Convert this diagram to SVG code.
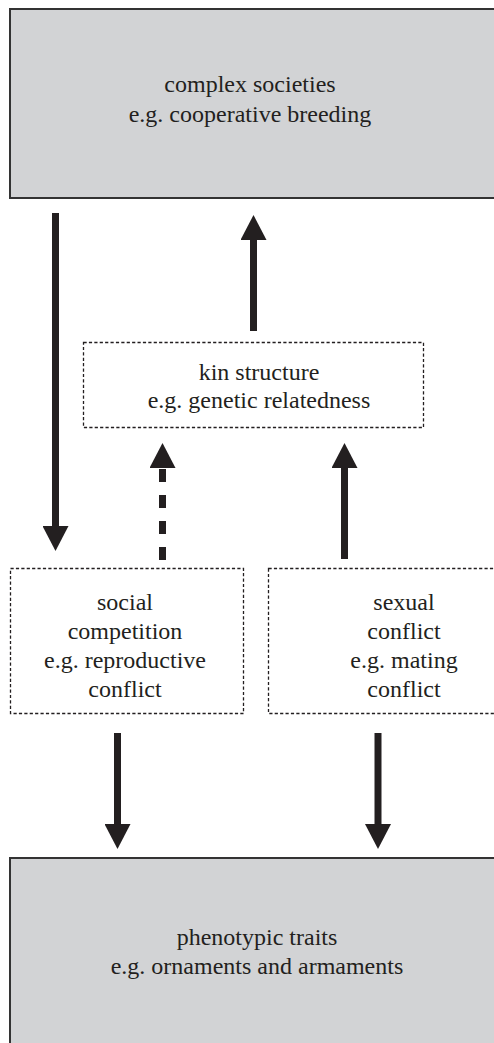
<svg xmlns="http://www.w3.org/2000/svg" width="494" height="1043" viewBox="0 0 494 1043">
<style>
.solid{fill:#d2d3d5;stroke:#333;stroke-width:2}
.dot{fill:#fff;stroke:#231f20;stroke-width:1.3;stroke-dasharray:3.2 2.2}
.t{font-family:'Liberation Serif','Times New Roman',serif;font-size:24px;fill:#231f20;text-anchor:middle}
.arr{stroke:#231f20;stroke-width:7;fill:none;marker-end:url(#head)}
.dash{stroke-dasharray:13 13}
</style>
<defs>
<marker id="head" viewBox="0 0 25 26" markerWidth="25" markerHeight="26" refX="0" refY="13" orient="auto" markerUnits="userSpaceOnUse">
<path d="M0,0 L25,13 L0,26 z" fill="#231f20"/>
</marker>
</defs>
<rect width="494" height="1043" fill="#fff"/>
<g id="complex-societies">
<rect class="solid" x="10" y="9" width="500" height="189"/>
<text class="t" x="250" y="92">complex societies</text>
<text class="t" x="250" y="122">e.g. cooperative breeding</text>
</g>
<g id="kin-structure">
<rect class="dot" x="83.5" y="342.5" width="340" height="85"/>
<text class="t" x="259" y="380">kin structure</text>
<text class="t" x="259" y="408">e.g. genetic relatedness</text>
</g>
<g id="social-competition">
<rect class="dot" x="10.5" y="568.5" width="233" height="145"/>
<text class="t" x="125" y="610">social</text>
<text class="t" x="125" y="639">competition</text>
<text class="t" x="125" y="668">e.g. reproductive</text>
<text class="t" x="125" y="697">conflict</text>
</g>
<g id="sexual-conflict">
<rect class="dot" x="268.5" y="568.5" width="240" height="145"/>
<text class="t" x="404" y="610">sexual</text>
<text class="t" x="404" y="639">conflict</text>
<text class="t" x="404" y="668">e.g. mating</text>
<text class="t" x="404" y="697">conflict</text>
</g>
<g id="phenotypic-traits">
<rect class="solid" x="10" y="858" width="500" height="200"/>
<text class="t" x="257" y="945">phenotypic traits</text>
<text class="t" x="257" y="974">e.g. ornaments and armaments</text>
</g>
<g id="connectors">
<line class="arr" x1="55.5" y1="213" x2="55.5" y2="526"/>
<line class="arr" x1="253.5" y1="331" x2="253.5" y2="240"/>
<line class="arr dash" x1="162.5" y1="560" x2="162.5" y2="468"/>
<line class="arr" x1="344.5" y1="559" x2="344.5" y2="468"/>
<line class="arr" x1="117.5" y1="733" x2="117.5" y2="824"/>
<line class="arr" x1="378" y1="733" x2="378" y2="824"/>
</g>
</svg>
